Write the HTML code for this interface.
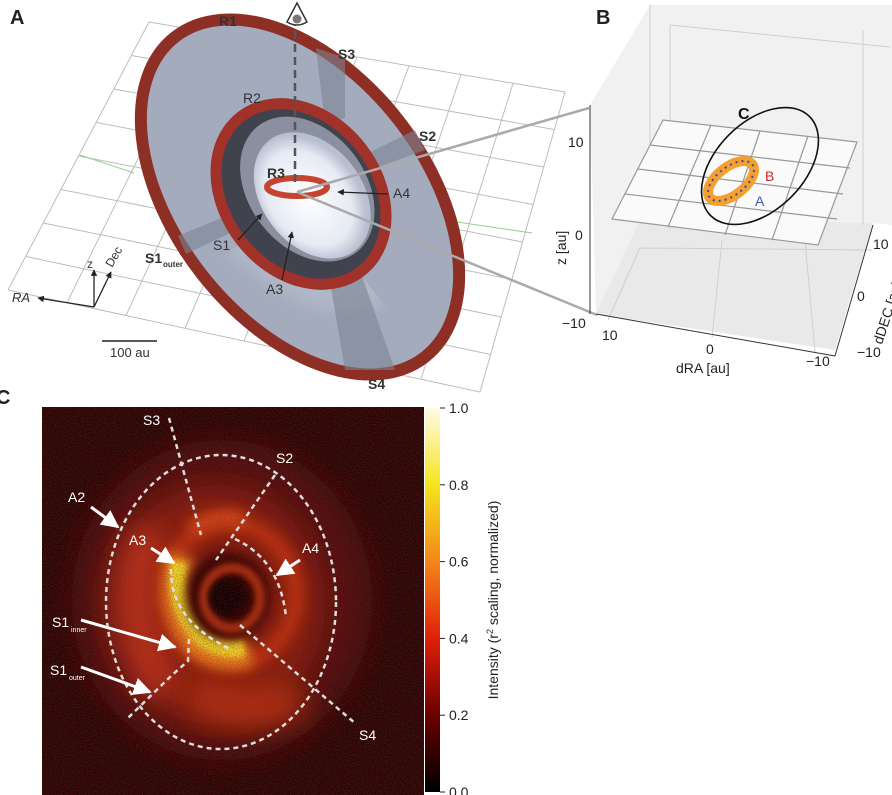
<!DOCTYPE html>
<html><head><meta charset="utf-8"><style>
html,body{margin:0;padding:0;background:#fff;}
svg{display:block;font-family:"Liberation Sans",sans-serif;}
</style></head><body>
<svg width="892" height="795" viewBox="0 0 892 795">
<defs>
<filter id="b6" filterUnits="userSpaceOnUse" x="0" y="380" width="892" height="415"><feGaussianBlur stdDeviation="6"/></filter>
<filter id="b12" filterUnits="userSpaceOnUse" x="0" y="380" width="892" height="415"><feGaussianBlur stdDeviation="14"/></filter>
<filter id="b3" filterUnits="userSpaceOnUse" x="0" y="380" width="892" height="415"><feGaussianBlur stdDeviation="3"/></filter>
<filter id="ba" filterUnits="userSpaceOnUse" x="0" y="0" width="892" height="400"><feGaussianBlur stdDeviation="7"/></filter>
<filter id="noise" filterUnits="userSpaceOnUse" x="42" y="407" width="382" height="388">
<feTurbulence type="fractalNoise" baseFrequency="0.9" numOctaves="1" seed="3"/>
<feColorMatrix values="0 0 0 0 0.2  0 0 0 0 0.02  0 0 0 0 0.02  0 0 0 1.2 -0.45"/>
</filter>
<linearGradient id="cbar" x1="0" y1="1" x2="0" y2="0">
<stop offset="0" stop-color="#000"/><stop offset="0.2" stop-color="#6a0000"/><stop offset="0.4" stop-color="#e0200a"/><stop offset="0.6" stop-color="#f4861a"/><stop offset="0.8" stop-color="#f6e41c"/><stop offset="1" stop-color="#fffbe8"/>
</linearGradient>
<radialGradient id="hole" cx="0.5" cy="0.55" r="0.5"><stop offset="0" stop-color="#fff"/><stop offset="0.75" stop-color="#e6eaf4"/><stop offset="1" stop-color="#b8bfd0"/></radialGradient>
<clipPath id="imgclip"><rect x="42" y="407" width="382" height="388"/></clipPath>
<marker id="ah" viewBox="0 0 10 10" refX="9" refY="5" markerWidth="6" markerHeight="6" orient="auto"><path d="M0,0L10,5L0,10z" fill="#fff"/></marker>
<marker id="ahk" viewBox="0 0 10 10" refX="9" refY="5" markerWidth="5" markerHeight="5" orient="auto"><path d="M0,0L10,5L0,10z" fill="#222"/></marker>
</defs>

<!-- PANEL A -->
<g>
<text x="10" y="24" font-size="20" font-weight="bold" fill="#222">A</text>
<g id="gridA" stroke="#bdbdbd" stroke-width="1" fill="none"></g>
<g stroke="#8fd08f" stroke-width="1"><path d="M80,155 L134,173"/><path d="M356,207 L532,233"/></g>
<g transform="translate(300,197) rotate(52)">
<ellipse cx="0" cy="0" rx="203" ry="125" fill="#a3abbd" stroke="#8e2f25" stroke-width="12"/>
<ellipse cx="-25" cy="-10" rx="160" ry="100" fill="#b0b8c8" filter="url(#ba)"/>
</g>
<g fill="#7d8494" opacity="0.6">
<path d="M316,48 L345,58 L345,118 L325,125z"/>
<path d="M415,130 L425,150 L365,172 L358,158z"/>
<path d="M178,236 L186,254 L270,214 L264,200z"/>
<path d="M330,282 L362,276 L395,370 L345,370z"/>
</g>
<g transform="translate(301,194) rotate(52)">
<ellipse cx="0" cy="0" rx="98" ry="76" fill="#40434e" stroke="#a0322a" stroke-width="11"/>
<ellipse cx="0" cy="-8" rx="80" ry="58" fill="#8a90a0"/>
<ellipse cx="8" cy="-8" rx="70" ry="50" fill="url(#hole)"/>
</g>
<ellipse cx="297" cy="187" rx="30" ry="9" fill="none" stroke="#c4452f" stroke-width="6"/>
<path d="M295,182 L295,24" stroke="#555" stroke-width="2.5" stroke-dasharray="8,5"/>
<path d="M287,22 L297,3 L307,22 Q297,28 287,22z" fill="#fff" stroke="#333" stroke-width="1.5"/>
<circle cx="297" cy="19" r="4.5" fill="#777"/>
<g font-size="14" font-weight="bold" fill="#333">
<text x="219" y="26">R1</text><text x="338" y="59">S3</text><text x="419" y="141">S2</text><text x="267" y="178">R3</text><text x="368" y="389">S4</text>
<text x="145" y="263">S1</text><text x="163" y="267" font-size="8">outer</text>
</g>
<g font-size="14" fill="#333">
<text x="243" y="103">R2</text><text x="393" y="198">A4</text><text x="213" y="250">S1</text><text x="266" y="294">A3</text>
</g>
<path d="M388,194 L338,192" stroke="#222" stroke-width="1.3" marker-end="url(#ahk)"/>
<path d="M238,240 L262,214" stroke="#222" stroke-width="1.3" marker-end="url(#ahk)"/>
<path d="M282,280 L292,232" stroke="#222" stroke-width="1.3" marker-end="url(#ahk)"/>
<g stroke="#222" stroke-width="1.3" fill="none">
<path d="M94,307 L38,298" marker-end="url(#ahk)"/><path d="M94,307 L94,270" marker-end="url(#ahk)"/><path d="M94,307 L111,272" marker-end="url(#ahk)"/>
</g>
<text x="12" y="302" font-size="13" font-style="italic" fill="#333">RA</text>
<text x="87" y="268" font-size="12" fill="#333">z</text>
<text x="112" y="268" font-size="12" fill="#333" transform="rotate(-60 112 268)">Dec</text>
<path d="M102,341 L157,341" stroke="#222" stroke-width="1.5"/>
<text x="110" y="357" font-size="13" fill="#333">100 au</text>
<g stroke="#aaa" stroke-width="2.5"><path d="M297,192 L589,108"/><path d="M297,192 L597,315"/></g>
</g>

<!-- PANEL B -->
<g>
<text x="596" y="24" font-size="20" font-weight="bold" fill="#222">B</text>
<path d="M590,105 L650,5 L892,5 L892,225 L872,223 L835,350 L596,314z" fill="#f1f1f1"/>
<path d="M596,314 L835,350 L873,223 L640,220z" fill="#e9e9e9"/>
<g stroke="#cfcfcf" fill="none" stroke-width="1">
<path d="M650,5 L650,225"/><path d="M670,25 L890,47"/><path d="M670,25 L670,230"/><path d="M863,30 L863,225"/>
<path d="M608,320 L640,248"/><path d="M712,338 L722,240"/><path d="M815,352 L805,240"/><path d="M640,248 L872,250"/>
</g>
<g stroke="#999" stroke-width="1.2" fill="#fafafa">
<path d="M612,219 L663,120 L857,142 L818,245z"/>
<path d="M625,194 L837,219" fill="none"/><path d="M638,169 L843,194" fill="none"/><path d="M650,145 L850,168" fill="none"/>
<path d="M711,125 L668,227" fill="none"/><path d="M760,131 L725,235" fill="none"/><path d="M808,136 L772,240" fill="none"/>
</g>
<ellipse cx="760" cy="166" rx="70" ry="44" transform="rotate(-45 760 166)" fill="none" stroke="#111" stroke-width="1.6"/>
<ellipse cx="731" cy="181" rx="27" ry="14" transform="rotate(-38 731 181)" fill="none" stroke="#f3a030" stroke-width="10"/>
<ellipse cx="731" cy="181" rx="27" ry="14" transform="rotate(-38 731 181)" fill="none" stroke="#3c4a9a" stroke-width="2" stroke-dasharray="2,4"/>
<text x="738" y="119" font-size="16" font-weight="bold" fill="#111">C</text>
<text x="765" y="181" font-size="14" fill="#d02828">B</text>
<text x="755" y="206" font-size="14" fill="#3c5aa0">A</text>
<g stroke="#333" fill="none" stroke-width="1"><path d="M590,105 L590,314"/><path d="M596,314 L835,356"/><path d="M835,356 L873,225"/></g>
<g font-size="14" fill="#222">
<text x="568" y="147">10</text><text x="575" y="240">0</text><text x="562" y="328">−10</text>
<text x="602" y="340">10</text><text x="706" y="354">0</text><text x="806" y="366">−10</text>
<text x="873" y="249">10</text><text x="857" y="301">0</text><text x="857" y="357">−10</text>
<text x="676" y="373">dRA [au]</text>
<text x="566" y="265" transform="rotate(-90 566 265)">z [au]</text>
<text x="882" y="345" transform="rotate(-72 882 345)">dDEC [au]</text>
</g>
</g>

<!-- PANEL C -->
<g>
<text x="-4" y="404" font-size="20" font-weight="bold" fill="#222">C</text>
<g clip-path="url(#imgclip)">
<rect x="42" y="407" width="382" height="388" fill="#240504"/>
<ellipse cx="222" cy="600" rx="150" ry="160" fill="#4e0c07" filter="url(#b12)"/>
<ellipse cx="215" cy="605" rx="110" ry="120" fill="#861c0b" filter="url(#b12)"/>
<path d="M150,530 Q118,610 165,690" stroke="#c3341a" stroke-width="32" fill="none" filter="url(#b12)"/>
<path d="M195,690 Q245,725 300,695" stroke="#b8320f" stroke-width="35" fill="none" filter="url(#b12)"/>
<ellipse cx="230" cy="594" rx="66" ry="70" fill="none" stroke="#bf300e" stroke-width="16" filter="url(#b6)"/>
<path d="M182,556 Q166,605 198,643 Q222,660 250,652" stroke="#f08a1c" stroke-width="28" fill="none" filter="url(#b6)"/>
<path d="M179,562 Q172,607 202,638 Q222,652 244,648" stroke="#f6e02a" stroke-width="16" fill="none" filter="url(#b3)"/>
<path d="M190,530 Q215,510 245,520" stroke="#d84a14" stroke-width="14" fill="none" filter="url(#b6)"/>
<ellipse cx="228" cy="596" rx="42" ry="44" fill="#2a0503" filter="url(#b6)"/>
<ellipse cx="232" cy="598" rx="28" ry="30" fill="none" stroke="#a82e0c" stroke-width="10" filter="url(#b3)"/>
<circle cx="227" cy="597" r="18" fill="#080000" filter="url(#b3)"/>
<rect x="42" y="407" width="382" height="388" filter="url(#noise)"/>
<g stroke="#ddd" stroke-width="2.5" fill="none" stroke-dasharray="5,4">
<ellipse cx="221" cy="602" rx="115" ry="147"/>
<path d="M169,418 L201,535"/><path d="M275,475 L216,560"/><path d="M235,539 Q280,560 286,617"/>
<path d="M240,625 L356,724"/><path d="M171,569 Q170,620 230,649"/><path d="M189,639 L188,661 L171,676 L128,718"/>
</g>
</g>
<g font-size="14" fill="#fff">
<text x="143" y="425">S3</text><text x="276" y="463">S2</text><text x="68" y="502">A2</text><text x="129" y="545">A3</text><text x="302" y="553">A4</text>
<text x="52" y="627">S1</text><text x="71" y="632" font-size="7">inner</text>
<text x="50" y="675">S1</text><text x="69" y="680" font-size="7">outer</text>
<text x="359" y="740">S4</text>
</g>
<g stroke="#fff" stroke-width="3" fill="none">
<path d="M91,507 L118,527" marker-end="url(#ah)"/><path d="M151,548 L174,563" marker-end="url(#ah)"/><path d="M300,560 L277,575" marker-end="url(#ah)"/>
<path d="M81,620 L175,647" marker-end="url(#ah)"/><path d="M81,667 L150,692" marker-end="url(#ah)"/>
</g>
<rect x="425" y="408" width="15" height="384" fill="url(#cbar)"/>
<g id="cbticks" font-size="14" fill="#222"></g>
<text x="498" y="600" font-size="14" fill="#222" text-anchor="middle" transform="rotate(-90 498 600)">Intensity (r<tspan font-size="9" dy="-5">2</tspan><tspan dy="5"> scaling, normalized)</tspan></text>
</g>
</svg>
<script>
var cbTicks = [0.0, 0.2, 0.4, 0.6, 0.8, 1.0];
var cbLabels = ["0.0", "0.2", "0.4", "0.6", "0.8", "1.0"];
function cbY(v){ return 792 - v * 384; }
var ns = "http://www.w3.org/2000/svg";
var g = document.getElementById('cbticks');
cbTicks.forEach(function(v, i){
  var y = cbY(v);
  var l = document.createElementNS(ns, 'line');
  l.setAttribute('x1', 440); l.setAttribute('x2', 445); l.setAttribute('y1', y); l.setAttribute('y2', y);
  l.setAttribute('stroke', '#222');
  
  
  g.appendChild(l);
  var t = document.createElementNS(ns, 'text');
  t.setAttribute('x', 449); t.setAttribute('y', y + 5);
  t.textContent = cbLabels[i];
  
  
  g.appendChild(t);
});
// perspective grid for panel A (bilinear quad)
var TL=[149,22], TR=[565,92], BR=[480,392], BL=[8,290];
function lerp(a,b,t){return [a[0]+(b[0]-a[0])*t, a[1]+(b[1]-a[1])*t];}
var ga = document.getElementById('gridA');
var n = 8;
for (var i=0;i<=n;i++){
  var t=i/n;
  var p1=lerp(TL,BL,t), p2=lerp(TR,BR,t);
  var q1=lerp(TL,TR,t), q2=lerp(BL,BR,t);
  [[p1,p2],[q1,q2]].forEach(function(s){
    var ln=document.createElementNS(ns,'line');
    ln.setAttribute('x1',s[0][0]); ln.setAttribute('y1',s[0][1]);
    ln.setAttribute('x2',s[1][0]); ln.setAttribute('y2',s[1][1]);
    
    
    ga.appendChild(ln);
  });
}
</script>
</body></html>
